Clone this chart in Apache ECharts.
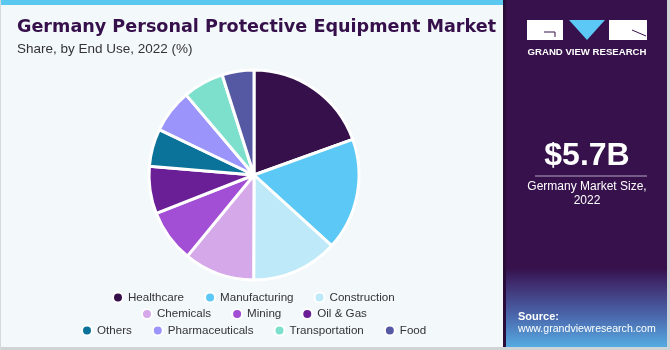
<!DOCTYPE html>
<html>
<head>
<meta charset="utf-8">
<script src="https://cdn.jsdelivr.net/npm/echarts@6/dist/echarts.min.js"></script>
<style>
html,body{margin:0;padding:0;background:#fff;}
#c{width:670px;height:350px;}
</style>
</head>
<body>
<div id="c"></div>
<script>
const categories = ["Healthcare","Manufacturing","Construction","Chemicals","Mining","Oil & Gas","Others","Pharmaceuticals","Transportation","Food"];
const shares = [19.5, 17.3, 13.3, 10.9, 8.1, 7.3, 5.8, 6.7, 6.3, 4.9];
const colors = ["#36104a","#5bc8f5","#bde9f8","#d5a8ea","#a24fd6","#6a1f96","#0b7399","#9a94fb","#7de0cc","#5558a3"];
const legendRows = [
  ["Healthcare","Manufacturing","Construction"],
  ["Chemicals","Mining","Oil & Gas"],
  ["Others","Pharmaceuticals","Transportation","Food"]
];
const title = "Germany Personal Protective Equipment Market";
const subtitle = "Share, by End Use, 2022 (%)";
const marketSize = "$5.7B";
const marketLabel = "Germany Market Size,\n2022";

const chart = echarts.init(document.getElementById('c'), null, {renderer:'canvas'});
const font = "'Liberation Sans', Arial, sans-serif";
const legendFontSize = 11.6;
const iconW = 10, itemGap = 20, textPad = 5;
const legendCenterX = 247;

const mctx = document.createElement('canvas').getContext('2d');
mctx.font = legendFontSize + "px " + font;

const legends = legendRows.map((row, i) => {
  let w = 0;
  row.forEach((n, k) => { w += iconW + textPad + mctx.measureText(n).width + (k ? itemGap : 0); });
  return {
    data: row,
    left: Math.round(legendCenterX - w / 2),
    top: 286.5 + i * 16.5,
    itemWidth: iconW, itemHeight: 10, itemGap: itemGap,
    icon: 'circle',
    textStyle: {fontFamily: font, fontSize: legendFontSize, color: '#333'},
    selectedMode: false
  };
});

const option = {
  backgroundColor: '#f3f8fb',
  color: colors,
  animation: false,
  legend: legends,
  graphic: [
    {type:'rect', shape:{x:0,y:0,width:670,height:5}, style:{fill:'#5bc8f0'}, z:-1},
    {type:'rect', shape:{x:0,y:347,width:670,height:3}, style:{fill:'#cfd3d6'}, z:-1},
    {type:'rect', shape:{x:0,y:0,width:1,height:350}, style:{fill:'#d5d9dc'}, z:-1},
    {type:'rect', shape:{x:667,y:0,width:3,height:350}, style:{fill:'#cfd3d6'}, z:-1},
    {type:'rect', shape:{x:503,y:0,width:3,height:347}, style:{fill:'#2a0c3a'}, z:0},
    {type:'rect', shape:{x:506,y:0,width:161,height:347}, style:{fill:'#36114b'}, z:0},
    {type:'rect', shape:{x:506,y:268,width:161,height:79}, style:{fill:{type:'linear',x:0,y:0,x2:0,y2:1,colorStops:[{offset:0,color:'#36114b'},{offset:0.18,color:'#3e2a6c'},{offset:0.6,color:'#4a66ab'},{offset:1,color:'#56abe2'}]}}, z:1},
    {type:'text', left:17, top:18.5, style:{text:title, font:"bold 17.6px 'DejaVu Sans', sans-serif", fill:'#36104a'}},
    {type:'text', left:17, top:42, style:{text:subtitle, font:"13.5px " + font, fill:'#333'}},
    // logo
    {type:'rect', shape:{x:527,y:20,width:36,height:20}, style:{fill:'#fff'}, z:2},
    {type:'polyline', shape:{points:[[544,32],[555,32],[555,37]]}, style:{stroke:'#36114b', lineWidth:1, fill:null}, z:3},
    {type:'polygon', shape:{points:[[569,20],[605,20],[587,40]]}, style:{fill:'#5bc8f5'}, z:2},
    {type:'rect', shape:{x:609,y:20,width:38,height:20}, style:{fill:'#fff'}, z:2},
    {type:'polyline', shape:{points:[[632,30],[646,36]]}, style:{stroke:'#36114b', lineWidth:1, fill:null}, z:3},
    {type:'text', x:587, y:52, style:{text:'GRAND VIEW RESEARCH', font:"bold 9.6px " + font, fill:'#fff', align:'center', verticalAlign:'middle'}, z:2},
    {type:'text', x:587, y:156, style:{text:marketSize, font:"bold 32px " + font, fill:'#fff', align:'center', verticalAlign:'middle'}, z:2},
    {type:'rect', shape:{x:535,y:175.5,width:112,height:1}, style:{fill:'#b8a8c8'}, z:2},
    {type:'text', x:587, y:194, style:{text:marketLabel, font:"12px " + font, fill:'#fff', align:'center', verticalAlign:'middle', lineHeight:14}, z:2},
    {type:'text', x:518, y:311, style:{text:'Source:', font:"bold 11px " + font, fill:'#fff'}, z:2},
    {type:'text', x:518, y:324, style:{text:'www.grandviewresearch.com', font:"10.6px " + font, fill:'#fff'}, z:2}
  ],
  series: [{
    type: 'pie',
    center: [254, 175],
    radius: [0, 105],
    startAngle: 90,
    clockwise: true,
    label: {show:false},
    labelLine: {show:false},
    itemStyle: {borderColor:'#fff', borderWidth:3},
    emphasis: {disabled:true},
    data: categories.map((n, i) => ({name:n, value:shares[i]}))
  }]
};
chart.setOption(option);
</script>
</body>
</html>
